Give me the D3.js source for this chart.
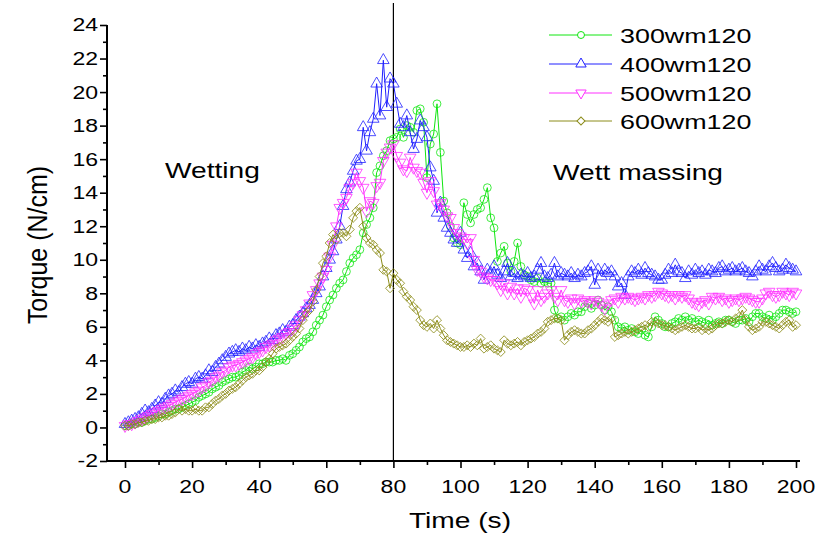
<!DOCTYPE html>
<html>
<head>
<meta charset="utf-8">
<script src="https://cdn.jsdelivr.net/npm/d3@7"></script>
<style>
  body { margin: 0; background: #fff; }
  text { font-family: "Liberation Sans", Arial, sans-serif; fill: #000; }
</style>
</head>
<body>
<svg id="chart" width="820" height="534"></svg>
<script>
'use strict';

// sampling grid, one reading per second
var times = d3.range(0, 201, 1);

var xTicks = [0, 20, 40, 60, 80, 100, 120, 140, 160, 180, 200];
var yTicks = [-2, 0, 2, 4, 6, 8, 10, 12, 14, 16, 18, 20, 22, 24];

var seriesNames = ['300wm120', '400wm120', '500wm120', '600wm120'];

var torque300 = [
    0.1, 0.1, 0.2, 0.2, 0.3, 0.3, 0.4, 0.5, 0.5, 0.6,
    0.7, 0.8, 0.8, 0.9, 1.0, 1.1, 1.1, 1.2, 1.3, 1.4,
    1.5, 1.6, 1.8, 1.9, 2.0, 2.1, 2.3, 2.4, 2.5, 2.7,
    2.8, 2.9, 3.0, 3.0, 3.1, 3.3, 3.4, 3.6, 3.5, 3.6,
    3.8, 3.8, 3.9, 3.9, 3.9, 4.0, 4.0, 4.1, 4.0, 4.3,
    4.4, 4.6, 4.8, 5.1, 5.3, 5.4, 5.7, 6.1, 6.4, 6.7,
    7.2, 7.6, 7.9, 8.3, 8.6, 8.8, 9.3, 9.8, 10.1, 10.3,
    10.6, 11.6, 12.1, 12.5, 13.1, 15.2, 15.6, 16.2, 16.5, 17.1,
    17.2, 17.3, 17.8, 17.3, 18.0, 17.9, 17.6, 18.9, 19.0, 18.2,
    14.9, 16.9, 17.5, 19.3, 16.4, 13.5, 12.8, 12.0, 11.3, 11.0,
    10.9, 13.4, 12.7, 12.2, 12.7, 13.0, 13.1, 13.6, 14.3, 12.5,
    11.9, 9.9, 10.4, 10.8, 9.8, 9.3, 9.9, 11.0, 9.6, 9.1,
    9.0, 8.8, 8.7, 8.9, 8.6, 8.7, 8.6, 8.6, 7.0, 6.5,
    6.6, 6.4, 6.6, 6.8, 6.7, 6.9, 6.9, 7.2, 7.4, 7.1,
    7.3, 7.6, 7.3, 7.0, 7.2, 6.9, 6.4, 6.0, 5.9, 6.0,
    5.8, 5.9, 5.7, 5.6, 5.8, 5.5, 5.4, 6.0, 6.6, 6.4,
    6.2, 6.0, 6.0, 6.2, 6.3, 6.5, 6.4, 6.6, 6.4, 6.5,
    6.3, 6.4, 6.3, 6.2, 6.4, 6.1, 6.2, 6.3, 6.2, 6.4,
    6.4, 6.3, 6.2, 6.4, 6.4, 6.5, 6.3, 6.6, 6.8, 6.8,
    6.6, 6.5, 6.7, 6.4, 6.6, 6.8, 7.0, 7.0, 6.9, 6.8,
    6.9
];

var torque400 = [
    0.2, 0.3, 0.4, 0.5, 0.6, 0.8, 1.0, 0.9, 1.1, 1.3,
    1.5, 1.4, 1.7, 1.9, 2.0, 2.2, 2.1, 2.4, 2.6, 2.7,
    2.6, 2.9, 3.0, 2.9, 3.1, 3.4, 3.3, 3.6, 3.8, 4.0,
    4.2, 4.4, 4.5, 4.6, 4.5, 4.7, 4.6, 4.8, 4.7, 4.9,
    4.8, 5.0, 5.1, 5.3, 5.2, 5.5, 5.6, 5.8, 5.7, 6.0,
    6.1, 6.4, 6.6, 6.8, 7.1, 7.3, 7.6, 8.0, 8.4, 9.0,
    9.5, 10.0, 10.5, 11.2, 12.0, 13.2, 14.2, 14.6, 15.3, 15.9,
    16.0, 17.9, 16.5, 17.6, 18.4, 20.5, 18.6, 21.9, 19.1, 20.8,
    20.5, 19.3, 18.1, 17.9, 18.6, 17.6, 16.6, 17.2, 18.3, 17.9,
    17.3, 15.5, 14.7, 12.8, 13.4, 12.5, 11.9, 11.6, 11.2, 11.0,
    11.6, 10.6, 10.1, 10.4, 9.6, 9.8, 9.3, 8.8, 9.4, 9.2,
    9.6, 9.1, 8.9, 9.3, 9.8, 9.0, 9.2, 8.9, 9.1, 9.0,
    9.2, 8.9, 9.0, 9.4, 9.8, 9.0, 8.9, 9.1, 9.8, 9.0,
    9.2, 9.1, 9.0, 9.2, 8.9, 9.1, 9.0, 9.2, 9.3, 9.6,
    8.5, 9.4, 9.0, 9.4, 9.2, 9.3, 9.0, 8.4, 8.6, 7.9,
    9.0, 9.3, 9.2, 9.4, 9.1, 9.5, 9.2, 9.1, 9.0, 8.8,
    8.8, 9.1, 9.4, 9.2, 9.7, 9.3, 9.2, 8.9, 9.3, 9.1,
    9.4, 9.2, 9.3, 9.1, 9.4, 9.3, 9.2, 9.5, 9.6, 9.3,
    9.4, 9.5, 9.3, 9.4, 9.5, 9.3, 9.2, 9.0, 9.3, 9.6,
    9.4, 9.3, 9.6, 9.8, 9.5, 9.3, 9.4, 9.7, 9.5, 9.4,
    9.3
];

var torque500 = [
    0.1, 0.2, 0.2, 0.3, 0.4, 0.5, 0.6, 0.7, 0.8, 0.9,
    1.0, 1.1, 1.2, 1.3, 1.4, 1.5, 1.6, 1.7, 1.8, 1.9,
    2.0, 2.1, 2.2, 2.4, 2.5, 2.7, 2.8, 3.0, 3.1, 3.3,
    3.4, 3.6, 3.7, 3.7, 3.8, 3.9, 4.0, 4.1, 4.2, 4.4,
    4.5, 4.6, 4.8, 4.9, 5.0, 5.2, 5.3, 5.4, 5.6, 5.7,
    5.9, 6.1, 6.4, 6.7, 7.0, 7.4, 7.9, 8.2, 8.6, 9.0,
    9.4, 10.2, 10.9, 12.0, 13.1, 13.4, 13.7, 14.3, 14.6, 15.2,
    14.7, 14.3, 12.9, 13.5, 13.4, 14.4, 14.6, 15.9, 16.4, 16.7,
    16.9, 16.2, 15.8, 15.4, 15.3, 16.1, 15.5, 15.3, 15.2, 14.6,
    14.0, 14.7, 14.1, 13.3, 13.4, 13.0, 12.6, 12.5, 11.9, 11.6,
    11.4, 11.3, 11.0, 11.3, 10.0, 9.4, 9.3, 9.0, 8.9, 8.8,
    8.8, 8.6, 8.2, 8.6, 8.0, 8.4, 8.0, 8.3, 7.8, 8.3,
    8.2, 7.8, 7.4, 8.2, 7.6, 7.8, 8.0, 8.2, 7.8, 7.6,
    8.2, 7.6, 7.5, 7.7, 7.4, 7.7, 7.5, 7.6, 7.5, 7.4,
    7.6, 7.5, 7.3, 7.1, 7.4, 7.6, 7.7, 7.5, 7.8, 7.7,
    7.8, 7.7, 7.6, 7.7, 7.8, 7.7, 7.9, 7.8, 7.9, 8.1,
    8.0, 7.9, 7.8, 7.9, 7.7, 7.9, 7.8, 7.9, 7.7, 7.5,
    7.4, 7.3, 7.5, 7.6, 7.4, 7.8, 7.7, 7.8, 7.6, 7.7,
    7.5, 7.6, 7.7, 7.6, 7.7, 7.8, 7.7, 7.6, 7.5, 7.5,
    7.7, 8.0, 8.1, 7.9, 7.8, 7.9, 8.1, 8.0, 7.9, 8.1,
    8.0
];

var torque600 = [
    0.1, 0.1, 0.2, 0.2, 0.3, 0.3, 0.4, 0.4, 0.5, 0.5,
    0.6, 0.6, 0.7, 0.7, 0.8, 0.9, 1.1, 1.0, 1.1, 1.0,
    1.0, 1.1, 1.0, 1.0, 1.2, 1.2, 1.4, 1.6, 1.7, 1.9,
    2.0, 2.2, 2.3, 2.4, 2.6, 2.8, 3.0, 3.1, 3.2, 3.4,
    3.4, 3.6, 3.9, 4.1, 4.4, 4.7, 4.8, 4.9, 5.0, 5.2,
    5.4, 5.6, 5.9, 6.4, 6.8, 7.0, 7.5, 8.2, 9.0, 9.8,
    10.2, 11.0, 11.5, 11.2, 11.6, 11.6, 11.4, 11.8, 12.5, 12.9,
    13.1, 12.0, 11.3, 11.0, 10.9, 10.6, 10.4, 9.4, 9.3, 8.3,
    9.2, 8.8, 8.6, 8.1, 7.8, 7.6, 7.2, 7.0, 6.4, 6.1,
    6.0, 6.2, 5.9, 6.4, 5.9, 5.5, 5.2, 5.1, 5.0, 4.9,
    4.8, 4.8, 4.9, 4.8, 5.0, 4.9, 5.3, 4.7, 4.8, 4.9,
    4.7, 4.6, 4.5, 5.2, 5.0, 4.9, 5.0, 5.1, 4.9, 5.1,
    5.2, 5.3, 5.4, 5.6, 5.7, 5.9, 6.3, 6.4, 6.5, 6.5,
    6.4, 5.2, 5.5, 5.7, 5.8, 5.7, 5.6, 5.6, 5.8, 5.9,
    6.1, 6.3, 6.5, 6.4, 6.3, 6.5, 5.4, 5.5, 5.6, 5.7,
    5.6, 5.7, 5.8, 5.9, 6.0, 6.1, 6.0, 6.3, 6.3, 6.2,
    6.1, 6.1, 6.0, 5.9, 5.8, 5.9, 6.0, 6.1, 6.0, 5.9,
    5.9, 6.0, 5.8, 5.9, 5.8, 5.9, 6.1, 6.2, 6.2, 6.3,
    6.4, 6.3, 6.5, 6.6, 7.0, 6.4, 6.0, 5.8, 5.9, 6.0,
    6.3, 6.3, 6.2, 6.1, 6.0, 5.9, 6.1, 6.3, 6.4, 6.0,
    6.1
];

var seriesValues = [torque300, torque400, torque500, torque600];
var seriesColors = ['#10e610', '#2020ff', '#ff30ff', '#8c8c1a'];

// the source picture is stretched sideways, so is every text in it
var TEXT_STRETCH = 1.28;

var svg = d3.select('#chart');

var x = d3.scaleLinear().domain([0, 200]).range([125, 796]);
var y = d3.scaleLinear().domain([-2, 24]).range([461, 25]);

var axisLeftX = 107,
    axisBottomY = 461;

function stretched(sel, px, py) {
    sel.attr('transform', 'translate(' + px + ',' + py + ') scale(' + TEXT_STRETCH + ',1)');
}

/*
 * axes
 */
var gx = svg.append('g')
    .attr('transform', 'translate(0,' + axisBottomY + ')')
    .call(d3.axisBottom(x).tickValues(d3.range(0, 201, 10)).tickSize(4).tickSizeOuter(0).tickFormat(''));
gx.select('.domain').remove();
gx.selectAll('.tick line')
    .attr('stroke', '#000')
    .attr('stroke-width', 1.6)
    .attr('y2', function(d) { return d % 20 === 0 ? 7 : 4; });

var gy = svg.append('g')
    .attr('transform', 'translate(' + axisLeftX + ',0)')
    .call(d3.axisLeft(y).tickValues(d3.range(-2, 25, 1)).tickSize(4).tickSizeOuter(0).tickFormat(''));
gy.select('.domain').remove();
gy.selectAll('.tick line')
    .attr('stroke', '#000')
    .attr('stroke-width', 1.6)
    .attr('x2', function(d) { return d % 2 === 0 ? -7 : -4; });

svg.append('line')
    .attr('x1', axisLeftX).attr('x2', 800)
    .attr('y1', axisBottomY).attr('y2', axisBottomY)
    .attr('stroke', '#000').attr('stroke-width', 2);

svg.append('line')
    .attr('x1', axisLeftX).attr('x2', axisLeftX)
    .attr('y1', y(24)).attr('y2', axisBottomY + 1)
    .attr('stroke', '#000').attr('stroke-width', 2);

svg.append('g').selectAll('text')
    .data(xTicks)
    .enter().append('text')
    .attr('text-anchor', 'middle')
    .style('font-size', '18px')
    .each(function(d) { d3.select(this).call(stretched, x(d), 493); })
    .text(function(d) { return d; });

svg.append('g').selectAll('text')
    .data(yTicks)
    .enter().append('text')
    .attr('text-anchor', 'end')
    .attr('dy', '0.36em')
    .style('font-size', '18px')
    .each(function(d) { d3.select(this).call(stretched, 98, y(d)); })
    .text(function(d) { return d; });

svg.append('text')
    .attr('text-anchor', 'middle')
    .style('font-size', '22px')
    .call(stretched, 460, 528)
    .text('Time (s)');

svg.append('text')
    .attr('text-anchor', 'middle')
    .style('font-size', '25px')
    .attr('transform', 'translate(47,245) scale(1.08,1) rotate(-90)')
    .text('Torque (N/cm)');

// boundary between the two stages
svg.append('line')
    .attr('x1', x(80)).attr('x2', x(80))
    .attr('y1', 3).attr('y2', axisBottomY)
    .attr('stroke', '#000').attr('stroke-width', 1.2);

svg.append('text')
    .style('font-size', '22px')
    .call(stretched, 165, 178)
    .text('Wetting');

svg.append('text')
    .style('font-size', '22px')
    .call(stretched, 553, 180)
    .text('Wett massing');

/*
 * series
 */
var markers = [
    { type: d3.symbolCircle, size: 48, rotate: 0 },
    { type: d3.symbolTriangle, size: 58, rotate: 0 },
    { type: d3.symbolTriangle, size: 58, rotate: 180 },
    { type: d3.symbolSquare, size: 40, rotate: 45 }
];

function markerPath(i) {
    return d3.symbol().type(markers[i].type).size(markers[i].size)();
}

var line = d3.line()
    .x(function(d) { return x(d[0]); })
    .y(function(d) { return y(d[1]); });

seriesValues.forEach(function(vals, i) {
    var pts = times.map(function(t, k) { return [t, vals[k]]; });
    var g = svg.append('g').attr('class', 'series');

    g.append('path')
        .datum(pts)
        .attr('d', line)
        .attr('fill', 'none')
        .attr('stroke', seriesColors[i])
        .attr('stroke-width', 1);

    g.selectAll('path.marker')
        .data(pts)
        .enter().append('path')
        .attr('class', 'marker')
        .attr('d', markerPath(i))
        .attr('transform', function(d) {
            return 'translate(' + x(d[0]) + ',' + y(d[1]) + ') rotate(' + markers[i].rotate + ')';
        })
        .attr('fill', 'none')
        .attr('stroke', seriesColors[i])
        .attr('stroke-width', 0.8);
});

/*
 * legend
 */
var legend = svg.append('g');
var rowY = [35, 64, 93, 121];

seriesNames.forEach(function(name, i) {
    var row = legend.append('g').attr('transform', 'translate(0,' + rowY[i] + ')');

    row.append('line')
        .attr('x1', 549).attr('x2', 612)
        .attr('stroke', seriesColors[i])
        .attr('stroke-width', 1);

    row.append('path')
        .attr('d', d3.symbol().type(markers[i].type).size(markers[i].size * 0.8)())
        .attr('transform', 'translate(581,0) rotate(' + markers[i].rotate + ')')
        .attr('fill', '#fff')
        .attr('stroke', seriesColors[i])
        .attr('stroke-width', 1);

    row.append('text')
        .attr('dy', '0.36em')
        .style('font-size', '21px')
        .call(stretched, 620, 0)
        .text(name);
});
</script>
</body>
</html>
